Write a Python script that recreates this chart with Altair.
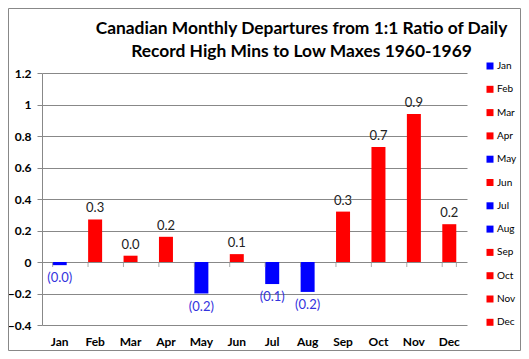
import altair as alt
import pandas as pd

months = ["Jan", "Feb", "Mar", "Apr", "May", "Jun", "Jul", "Aug", "Sep", "Oct", "Nov", "Dec"]
values = [-0.02, 0.27, 0.04, 0.16, -0.20, 0.05, -0.14, -0.19, 0.32, 0.73, 0.94, 0.24]
colors = ["#0000FF", "#FF0000", "#FF0000", "#FF0000", "#0000FF", "#FF0000",
          "#0000FF", "#0000FF", "#FF0000", "#FF0000", "#FF0000", "#FF0000"]
y_ticks = [-0.4, -0.2, 0, 0.2, 0.4, 0.6, 0.8, 1, 1.2]

df = pd.DataFrame({"month": months, "value": values})
df["label"] = [f"{v:.1f}" if v >= 0 else f"({abs(v):.1f})" for v in values]
df["zero"] = 0.0

FONT = "Lato"
W, H = 425, 252

xscale = alt.Scale(domain=months, paddingInner=0.6, paddingOuter=0.3)
yscale = alt.Scale(domain=[-0.4, 1.2], nice=False)

x_axis = alt.Axis(orient="bottom", labelAngle=0, labelFont=FONT, labelFontSize=12,
                  labelFontWeight="bold", labelColor="#000", ticks=False,
                  domain=False, labelPadding=11, grid=False, title=None)
y_axis = alt.Axis(values=y_ticks, labelFont=FONT, labelFontSize=12, labelFontWeight="bold",
                  labelColor="#000", domainColor="#888", tickColor="#888", tickSize=5,
                  gridColor="#888", gridWidth=1, labelPadding=6, labelOverlap=False, title=None,
                  labelExpr="datum.value == 0 ? '0' : format(datum.value, '.1~f')")


def X(**kw):
    return alt.X("month:N", scale=xscale, sort=months, axis=x_axis, title=None, **kw)


def Y(field):
    return alt.Y(field, scale=yscale, axis=y_axis, title=None)


base = alt.Chart(df)

bars = base.mark_bar(size=14).encode(
    x=X(),
    y=Y("value:Q"),
    color=alt.Color("month:N", scale=alt.Scale(domain=months, range=colors), sort=months,
                    legend=alt.Legend(title=None, orient="none", legendX=443, legendY=-12,
                                      symbolType="square", symbolSize=49, symbolStrokeWidth=0,
                                      labelFont=FONT, labelFontSize=10, labelColor="#000",
                                      rowPadding=13.3, labelOffset=2)),
)

# tick marks along the zero line at category boundaries
zero_ticks = base.mark_tick(orient="vertical", size=5, yOffset=2.5, color="#888", thickness=1).encode(
    x=X(bandPosition=0),
    y=Y("zero:Q"),
)
end_tick = base.transform_filter("datum.month == 'Dec'").mark_tick(
    orient="vertical", size=5, yOffset=2.5, color="#888", thickness=1
).encode(
    x=X(bandPosition=1),
    y=Y("zero:Q"),
)

pos_labels = base.transform_filter("datum.value >= 0").mark_text(
    baseline="bottom", dy=-4, font=FONT, fontSize=13, color="#222"
).encode(x=X(), y=Y("value:Q"), text="label:N")

neg_labels = base.transform_filter("datum.value < 0").mark_text(
    baseline="top", dy=7, font=FONT, fontSize=13, color="#3333DD"
).encode(x=X(), y=Y("value:Q"), text="label:N")

border = alt.Chart(pd.DataFrame({"a": [0]})).mark_rect(
    fill=None, stroke="#888", strokeWidth=1
).encode(
    x=alt.value(-33.5), x2=alt.value(478.5), y=alt.value(-64.5), y2=alt.value(277.5)
)

chart = alt.layer(bars, zero_ticks, end_tick, pos_labels, neg_labels, border).properties(
    width=W, height=H,
    title=alt.Title(
        ["Canadian Monthly Departures from 1:1 Ratio of Daily",
         "Record High Mins to Low Maxes 1960-1969"],
        font=FONT, fontSize=17.4, fontWeight="bold", color="#000",
        anchor="middle", frame="group", dx=47, offset=-52, lineHeight=23,
    ),
    padding={"left": 34, "top": 65, "right": 54, "bottom": 26},
    autosize=alt.AutoSizeParams(type="none"),
).configure_view(stroke=None)

chart.save("out.html", embed_options={"renderer": "svg", "actions": False})
